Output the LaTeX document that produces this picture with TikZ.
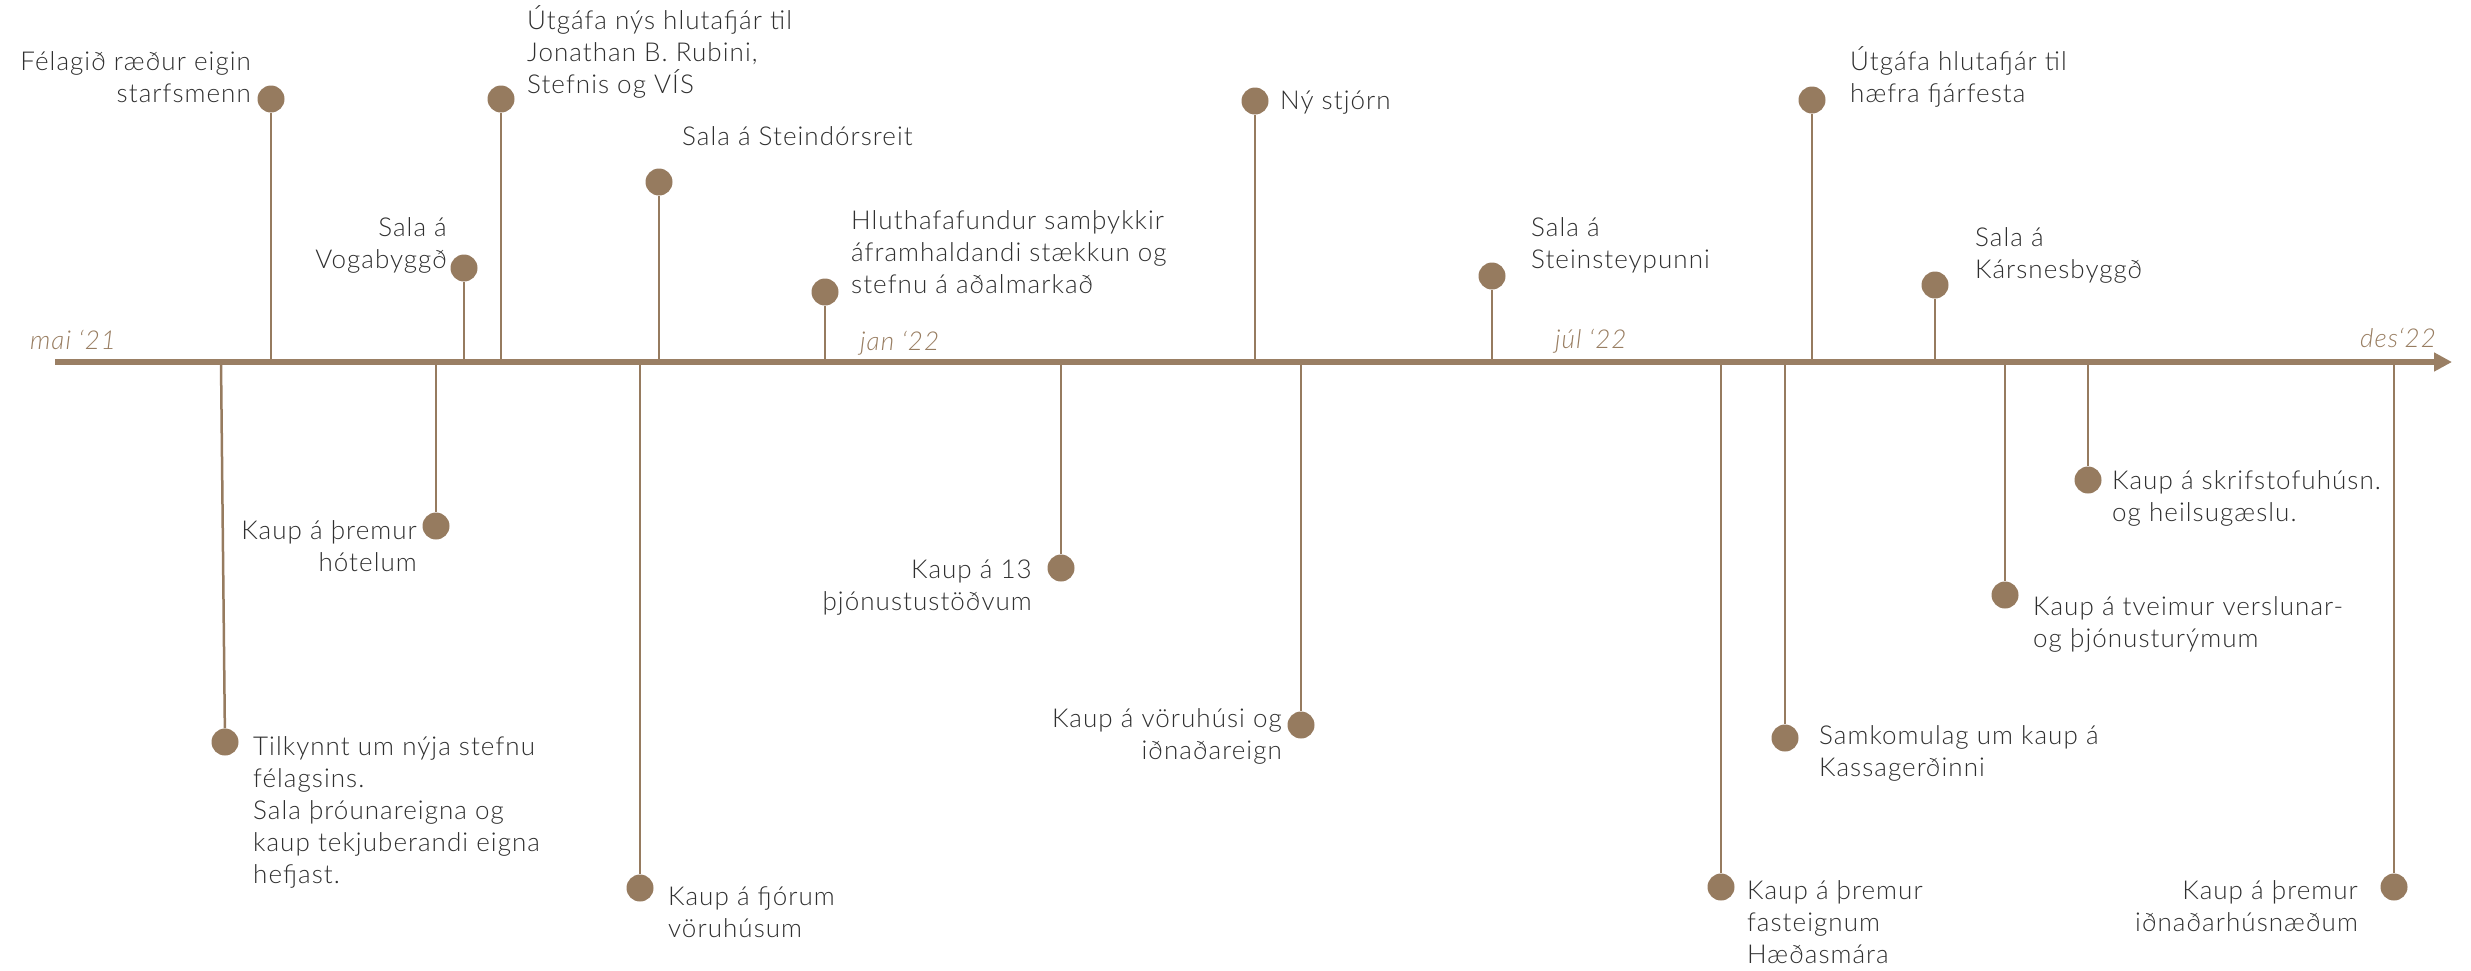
\documentclass[tikz,border=0pt]{standalone}
\usepackage{fontspec}
\setmainfont{Lato}[UprightFont=* Light, ItalicFont=* Light Italic, LetterSpace=4]
\usetikzlibrary{arrows.meta}
\definecolor{axisbrown}{HTML}{9A7F64}
\definecolor{dotbrown}{HTML}{967B5F}
\definecolor{txtgray}{HTML}{2F2F2F}
\definecolor{monthbrown}{HTML}{987D61}
\begin{document}
\begin{tikzpicture}[x=1pt,y=-1pt,
  axisline/.style={draw=axisbrown,line width=6pt,-{Triangle[length=18pt,width=18pt]}},
  dot/.style={circle,fill=dotbrown,inner sep=0pt,minimum size=27pt},
  stem/.style={draw=dotbrown,line width=2.5pt},
  lbl/.style={text=txtgray,font=\fontsize{26}{32}\selectfont,inner sep=0pt},
  lblL/.style={lbl,align=left,anchor=base west},
  lblR/.style={lbl,align=right,anchor=base east},
  month/.style={text=monthbrown,font=\fontsize{26}{30}\selectfont\itshape,inner sep=0pt,anchor=base west}]
\useasboundingbox (0,0) rectangle (2471,970);

% events: name / point on the axis / dot position
\foreach \n/\ax/\x/\y in {1/271/271/99, 2/501/501/99, 3/659/659/182, 4/464/464/268,
    5/825/825/292, 6/1255/1255/101, 7/1492/1492/276, 8/1812/1812/100, 9/1935/1935/285,
    10/221/225/742, 11/436/436/526, 12/640/640/888, 13/1061/1061/568, 14/1301/1301/725,
    15/1721/1721/887, 16/1785/1785/738, 17/2005/2005/595, 18/2088/2088/480, 19/2394/2394/887}{
  \coordinate (a\n) at (\ax,362);
  \node[dot] (d\n) at (\x,\y) {};
  \draw[stem] (a\n) -- (d\n);
}

% time axis
\coordinate (axL) at (55,362);
\coordinate (axR) at (2452,362);
\draw[axisline] (axL) -- (axR);

% month marks
\node[month] (m1) at (30,349) {mai ‘21};
\node[month] (m2) at (860,350) {jan ‘22};
\node[month] (m3) at (1555,348) {júl ‘22};
\node[month] (m4) at (2360,347) {des‘22};

% labels above the axis (placed by the baseline of their last line)
\node[lblR] (t1) at (251,102) {Félagið ræður eigin\\starfsmenn};
\node[lblL] (t2) at (527,93) {Útgáfa nýs hlutafjár til\\Jonathan B. Rubini,\\Stefnis og VÍS};
\node[lblL] (t3) at (682,145) {Sala á Steindórsreit};
\node[lblR] (t4) at (447,268) {Sala á\\Vogabyggð};
\node[lblL] (t5) at (851,293) {Hluthafafundur samþykkir\\áframhaldandi stækkun og\\stefnu á aðalmarkað};
\node[lblL] (t6) at (1280,109) {Ný stjórn};
\node[lblL] (t7) at (1531,268) {Sala á\\Steinsteypunni};
\node[lblL] (t8) at (1850,102) {Útgáfa hlutafjár til\\hæfra fjárfesta};
\node[lblL] (t9) at (1975,278) {Sala á\\Kársnesbyggð};

% labels below the axis
\node[lblL] (t10) at (253,883) {Tilkynnt um nýja stefnu\\félagsins.\\Sala þróunareigna og\\kaup tekjuberandi eigna\\hefjast.};
\node[lblR] (t11) at (417,571) {Kaup á þremur\\hótelum};
\node[lblL] (t12) at (668,937) {Kaup á fjórum\\vöruhúsum};
\node[lblR] (t13) at (1032,610) {Kaup á 13\\þjónustustöðvum};
\node[lblR] (t14) at (1282,759) {Kaup á vöruhúsi og\\iðnaðareign};
\node[lblL] (t15) at (1747,963) {Kaup á þremur\\fasteignum\\Hæðasmára};
\node[lblL] (t16) at (1819,776) {Samkomulag um kaup á\\Kassagerðinni};
\node[lblL] (t17) at (2033,647) {Kaup á tveimur verslunar-\\og þjónusturýmum};
\node[lblL] (t18) at (2112,521) {Kaup á skrifstofuhúsn.\\og heilsugæslu.};
\node[lblR] (t19) at (2358,931) {Kaup á þremur\\iðnaðarhúsnæðum};
\end{tikzpicture}
\end{document}
